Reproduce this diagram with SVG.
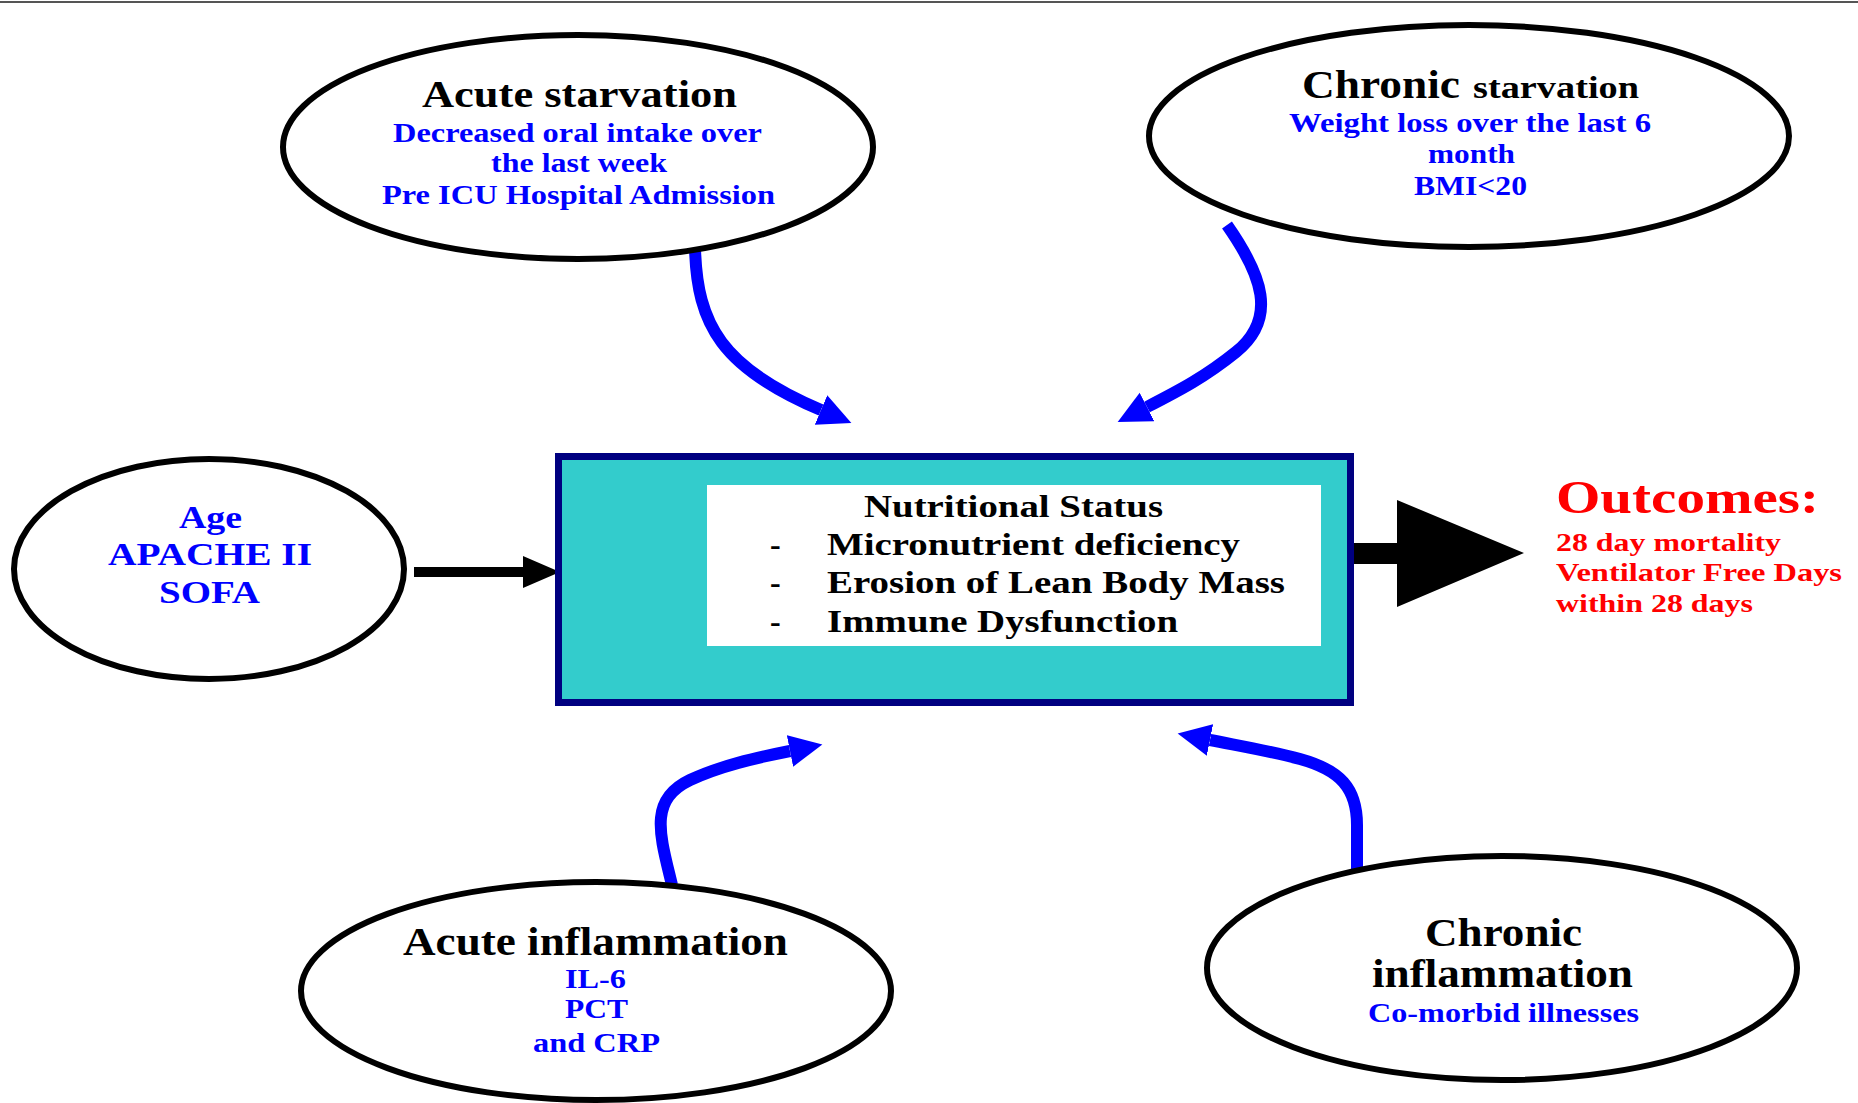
<svg xmlns="http://www.w3.org/2000/svg" width="1858" height="1103" viewBox="0 0 1858 1103">
<style>
.t{font-family:"Liberation Serif","Times New Roman",serif;font-weight:bold}
.k{fill:#000}
.b{fill:#0000FF}
.r{fill:#FF0000}
.ell{fill:#fff;stroke:#000;stroke-width:6}
.blue{fill:none;stroke:#0000FF;stroke-width:12;marker-end:url(#bh)}
</style>
<defs>
<marker id="bh" markerUnits="userSpaceOnUse" markerWidth="34" markerHeight="34" refX="0" refY="17" orient="auto" viewBox="0 0 34 34">
<path d="M0,1 L33,17 L0,33 z" fill="#0000FF"/>
</marker>
</defs>
<rect width="1858" height="1103" fill="#fff"/>
<line x1="0" y1="2" x2="1858" y2="2" stroke="#555" stroke-width="2"/>

<g id="connectors">
<path class="blue" d="M695 248 C697 325 722 368 821 410"/>
<path class="blue" d="M1227 225 C1262 275 1278 318 1236 352 C1205 377 1180 390 1147 407"/>
<path class="blue" d="M672 885 C660 835 648 800 690 780 C720 766 755 758 790 751"/>
<path class="blue" d="M1357 870 L1357 825 C1357 788 1340 770 1300 759 C1270 751 1240 746 1210 740"/>
<polygon points="414,567 523,567 523,556 560,572 523,588 523,577 414,577" fill="#000"/>
<polygon points="1350,543 1397,543 1397,500 1524,553 1397,607 1397,564 1350,564" fill="#000"/>
</g>

<g id="acute-starvation">
<ellipse class="ell" cx="578" cy="147" rx="295" ry="112"/>
<text class="t k" x="422" y="107" font-size="38" textLength="315" lengthAdjust="spacingAndGlyphs">Acute starvation</text>
<text class="t b" x="393" y="142" font-size="28" textLength="369" lengthAdjust="spacingAndGlyphs">Decreased oral intake over</text>
<text class="t b" x="491" y="172" font-size="28" textLength="176" lengthAdjust="spacingAndGlyphs">the last week</text>
<text class="t b" x="382" y="204" font-size="28" textLength="393" lengthAdjust="spacingAndGlyphs">Pre ICU Hospital Admission</text>
</g>

<g id="chronic-starvation">
<ellipse class="ell" cx="1469" cy="136" rx="320" ry="111"/>
<text class="t k" x="1302" y="98" font-size="39" textLength="158" lengthAdjust="spacingAndGlyphs">Chronic</text>
<text class="t k" x="1473" y="98" font-size="31" textLength="166" lengthAdjust="spacingAndGlyphs">starvation</text>
<text class="t b" x="1289" y="132" font-size="28" textLength="362" lengthAdjust="spacingAndGlyphs">Weight loss over the last 6</text>
<text class="t b" x="1428" y="163" font-size="28" textLength="87" lengthAdjust="spacingAndGlyphs">month</text>
<text class="t b" x="1414" y="195" font-size="28" textLength="113" lengthAdjust="spacingAndGlyphs">BMI&lt;20</text>
</g>

<g id="age">
<ellipse class="ell" cx="209" cy="569" rx="195" ry="110"/>
<text class="t b" x="179" y="528" font-size="32" textLength="63" lengthAdjust="spacingAndGlyphs">Age</text>
<text class="t b" x="108" y="565" font-size="32" textLength="204" lengthAdjust="spacingAndGlyphs">APACHE II</text>
<text class="t b" x="159" y="603" font-size="32" textLength="101" lengthAdjust="spacingAndGlyphs">SOFA</text>
</g>

<g id="nutritional-status">
<rect x="558.5" y="456.5" width="792" height="246" fill="#33CCCC" stroke="#000080" stroke-width="7"/>
<rect x="707" y="485" width="614" height="161" fill="#fff"/>
<text class="t k" x="864" y="517" font-size="32" textLength="299" lengthAdjust="spacingAndGlyphs">Nutritional Status</text>
<text class="t k" x="770" y="555" font-size="32">-</text>
<text class="t k" x="827" y="555" font-size="32" textLength="413" lengthAdjust="spacingAndGlyphs">Micronutrient deficiency</text>
<text class="t k" x="770" y="593" font-size="32">-</text>
<text class="t k" x="827" y="593" font-size="32" textLength="458" lengthAdjust="spacingAndGlyphs">Erosion of Lean Body Mass</text>
<text class="t k" x="770" y="632" font-size="32">-</text>
<text class="t k" x="827" y="632" font-size="32" textLength="351" lengthAdjust="spacingAndGlyphs">Immune Dysfunction</text>
</g>

<g id="outcomes">
<text class="t r" x="1556" y="513" font-size="46" textLength="263" lengthAdjust="spacingAndGlyphs">Outcomes:</text>
<text class="t r" x="1556" y="551" font-size="26" textLength="225" lengthAdjust="spacingAndGlyphs">28 day mortality</text>
<text class="t r" x="1556" y="581" font-size="26" textLength="286" lengthAdjust="spacingAndGlyphs">Ventilator Free Days</text>
<text class="t r" x="1556" y="612" font-size="26" textLength="197" lengthAdjust="spacingAndGlyphs">within 28 days</text>
</g>

<g id="acute-inflammation">
<ellipse class="ell" cx="596" cy="991" rx="295" ry="109"/>
<text class="t k" x="403" y="955" font-size="39" textLength="385" lengthAdjust="spacingAndGlyphs">Acute inflammation</text>
<text class="t b" x="565" y="988" font-size="28" textLength="61" lengthAdjust="spacingAndGlyphs">IL-6</text>
<text class="t b" x="565" y="1018" font-size="28" textLength="63" lengthAdjust="spacingAndGlyphs">PCT</text>
<text class="t b" x="533" y="1052" font-size="28" textLength="127" lengthAdjust="spacingAndGlyphs">and CRP</text>
</g>

<g id="chronic-inflammation">
<ellipse class="ell" cx="1502" cy="968" rx="295" ry="112"/>
<text class="t k" x="1425" y="946" font-size="39" textLength="157" lengthAdjust="spacingAndGlyphs">Chronic</text>
<text class="t k" x="1372" y="987" font-size="39" textLength="261" lengthAdjust="spacingAndGlyphs">inflammation</text>
<text class="t b" x="1368" y="1022" font-size="27" textLength="271" lengthAdjust="spacingAndGlyphs">Co-morbid illnesses</text>
</g>
</svg>
